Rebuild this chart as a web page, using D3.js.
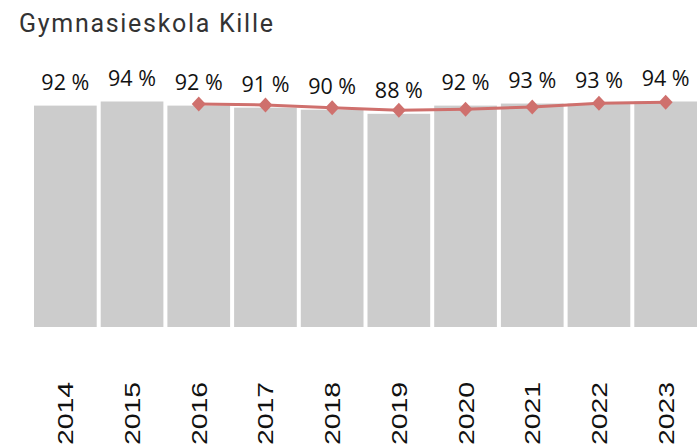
<!DOCTYPE html>
<meta charset="utf-8">
<style>
body { margin: 0; background: #fff; }
.title { font: 400 25px Roboto, sans-serif; fill: #333; letter-spacing: 1.7px; }
.lbl { font: 21.5px "Open Sans", sans-serif; fill: #111; text-anchor: middle; }
.year { font: 22px "Liberation Sans", Arial, sans-serif; fill: #111; }
.line { fill: none; stroke: #cf706d; stroke-width: 3px; }
</style>
<body>
<script src="https://d3js.org/d3.v7.min.js"></script>
<script>

// data
var years = ["2014","2015","2016","2017","2018","2019","2020","2021","2022","2023"];
var school = [92, 94, 92, 91, 90, 88, 92, 93, 93, 94];
var compareYears = ["2016","2017","2018","2019","2020","2021","2022","2023"];
var compare = [92.8, 92.3, 91.0, 89.7, 90.2, 91.3, 93.1, 93.6];

var width = 697, height = 448;

var svg = d3.select("body").append("svg")
    .attr("width", width)
    .attr("height", height);

var x = d3.scaleBand().domain(years).range([32, 699])
    .paddingInner(0.06).paddingOuter(0.03);
var y = d3.scaleLinear().domain([-16, 100]).range([327, 89.2]);

svg.append("text").attr("class", "title")
    .attr("x", 19).attr("y", 32)
    .text("Gymnasieskola Kille");

// bars
svg.selectAll(".bar")
    .data(school)
  .enter().append("rect")
    .attr("class", "bar")
    .attr("x", function(d, i) { return x(years[i]); })
    .attr("width", x.bandwidth())
    .attr("y", function(d) { return y(d); })
    .attr("height", function(d) { return y(-16) - y(d); })
    .attr("fill", "#cccccc");

// value labels
svg.selectAll(".lbl")
    .data(school)
  .enter().append("text")
    .attr("class", "lbl")
    .attr("x", function(d, i) { return x(years[i]) + x.bandwidth() / 2; })
    .attr("y", function(d) { return y(d) - 16; })
    .text(function(d) { return d + " %"; });

// comparison line
var line = d3.line()
    .x(function(d, i) { return x(compareYears[i]) + x.bandwidth() / 2; })
    .y(function(d) { return y(d); });

svg.append("path")
    .datum(compare)
    .attr("class", "line")
    .attr("d", line);

svg.selectAll(".mark")
    .data(compare)
  .enter().append("path")
    .attr("class", "mark")
    .attr("d", "M0,-7.5L7,0L0,7.5L-7,0Z")
    .attr("fill", "#cf706d")
    .attr("transform", function(d, i) {
      return "translate(" + (x(compareYears[i]) + x.bandwidth() / 2) + "," + y(d) + ")";
    });

// x axis labels (rotated)
svg.selectAll(".year")
    .data(years)
  .enter().append("text")
    .attr("class", "year")
    .attr("transform", function(d) {
      return "translate(" + (x(d) + x.bandwidth() / 2 + 8) + ",445) rotate(-90) scale(1.29,1)";
    })
    .text(function(d) { return d; });

</script>
</body>
